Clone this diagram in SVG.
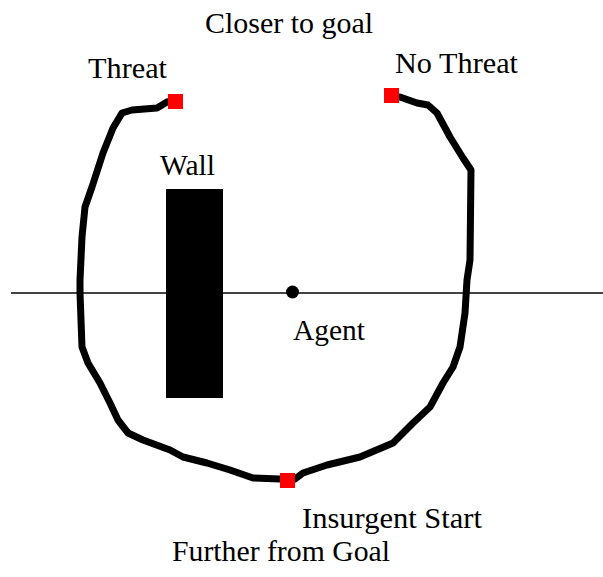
<svg xmlns="http://www.w3.org/2000/svg" width="603" height="577" viewBox="0 0 603 577">
<style>
.lbl{font-family:"Liberation Serif","Times New Roman",serif;font-size:30px;fill:#000}
.trail{fill:none;stroke:#000;stroke-width:7;stroke-linejoin:round;stroke-linecap:round}
.pt{fill:#ff0000}
</style>
<rect width="603" height="577" fill="#fff"/>
<g id="axis">
<line x1="11" y1="293" x2="603" y2="293" stroke="#444" stroke-width="2"/>
</g>
<g id="wall">
<rect x="166" y="189" width="57" height="209" fill="#000"/>
<text class="lbl" x="160" y="175" textLength="55" lengthAdjust="spacingAndGlyphs">Wall</text>
</g>
<g id="connectors">
<path class="trail" d="M167,102 L157,108 L132,110 L122,113 L113,128 L103,153 L92,187 L85,207 L82,237 L80,280 L80,293 L82,347 L88,363 L100,383 L110,403 L118,420 L128,433 L143,440 L170,450 L183,457 L207,463 L230,470 L253,478 L280,479"/>
<path class="trail" d="M295,479 L303,473 L327,465 L360,457 L393,443 L413,423 L430,407 L443,383 L453,367 L460,347 L465,313 L467,280 L470,260 L471,170 L463,158 L450,137 L437,113 L428,105 L417,103 L400,97"/>
</g>
<g id="threat">
<rect class="pt" x="168" y="94" width="15" height="15"/>
<text class="lbl" x="88" y="78" textLength="79" lengthAdjust="spacingAndGlyphs">Threat</text>
</g>
<g id="no-threat">
<rect class="pt" x="384" y="88" width="15" height="15"/>
<text class="lbl" x="395" y="73" textLength="123" lengthAdjust="spacingAndGlyphs">No Threat</text>
</g>
<g id="insurgent-start">
<rect class="pt" x="280" y="473" width="15" height="15"/>
<text class="lbl" x="302" y="528" textLength="180" lengthAdjust="spacingAndGlyphs">Insurgent  Start</text>
</g>
<g id="agent">
<circle cx="292.5" cy="292" r="6.5" fill="#000"/>
<text class="lbl" x="293" y="340" textLength="72" lengthAdjust="spacingAndGlyphs">Agent</text>
</g>
<g id="goal-labels">
<text class="lbl" x="205" y="33" textLength="168" lengthAdjust="spacingAndGlyphs">Closer to goal</text>
<text class="lbl" x="172" y="561" textLength="218" lengthAdjust="spacingAndGlyphs">Further from Goal</text>
</g>
</svg>
